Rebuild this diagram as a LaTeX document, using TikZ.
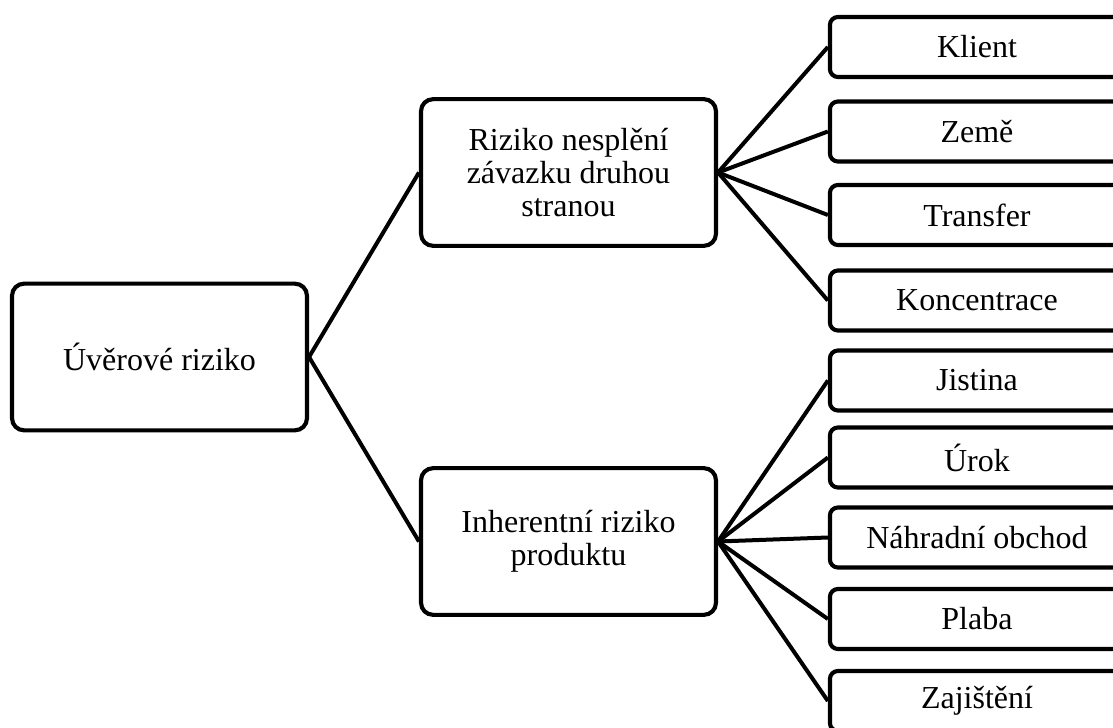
\documentclass[tikz,border=0pt]{standalone}
\usepackage{fontspec}
\setmainfont{Liberation Serif}
\usetikzlibrary{positioning}
\tikzset{
  bigbox/.style={draw, line width=1.55pt, rounded corners=4.5pt, align=center,
    minimum width=110.6pt, minimum height=55pt, inner sep=0pt},
  leafbox/.style={draw, line width=1.55pt, rounded corners=3pt,
    minimum width=110.3pt, minimum height=22.5pt, inner sep=0pt},
  link/.style={line width=1.5pt}
}
\begin{document}
\begin{tikzpicture}[x=0.375pt, y=0.375pt, font=\fontsize{12}{12.4}\selectfont]

		% Frame (boxes on the right run off the page)
		\useasboundingbox (0,0) rectangle (1113,727);
		\clip (0,0) rectangle (1113,727);

		% Root
		\node[bigbox] (uver) at (159.5,370) {Úvěrové riziko};

		% Second level
		\node[bigbox] (nespl) at (568.5,554.5) {Riziko nesplění\\závazku druhou\\stranou};
		\node[bigbox] (inher) at (568.5,185.5) {Inherentní riziko\\produktu};

		% Leaves of the first branch
		\node[leafbox] (klient) at (977,680) {Klient};
		\node[leafbox] (zeme) at (977,595.5) {Země};
		\node[leafbox] (transfer) at (977,512) {Transfer};
		\node[leafbox] (konc) at (977,426.5) {Koncentrace};

		% Leaves of the second branch
		\node[leafbox] (jistina) at (977,346.5) {Jistina};
		\node[leafbox] (urok) at (977,269.5) {Úrok};
		\node[leafbox] (nahr) at (977,189.5) {Náhradní obchod};
		\node[leafbox] (plaba) at (977,108) {Plaba};
		\node[leafbox] (zajist) at (977,26) {Zajištění};

		% Connectors
		\draw[link] (uver.east) -- (nespl.west);
		\draw[link] (uver.east) -- (inher.west);
		\foreach \leaf in {klient,zeme,transfer,konc}
			\draw[link] (nespl.east) -- (\leaf.west);
		\foreach \leaf in {jistina,urok,nahr,plaba,zajist}
			\draw[link] (inher.east) -- (\leaf.west);

	\end{tikzpicture}
\end{document}
